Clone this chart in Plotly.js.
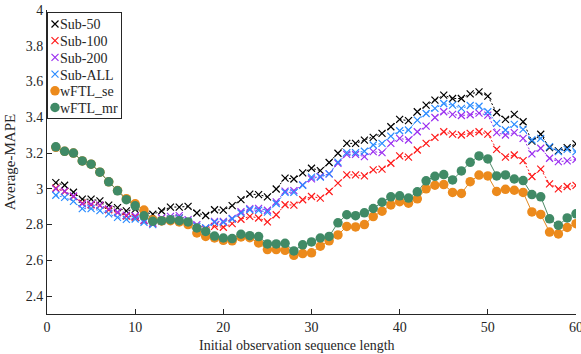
<!DOCTYPE html>
<html>
<head>
<meta charset="utf-8">
<script src="https://cdn.plot.ly/plotly-3.0.1.min.js"></script>
<style>html,body{margin:0;padding:0;background:#fff;}#chart{width:581px;height:354px;}</style>
</head>
<body>
<div id="chart"></div>
<script>
const seqLength = Array.from({length: 60}, (_, i) => i + 1);

const sub50 = [3.035,3.020,2.981,2.942,2.942,2.933,2.909,2.895,2.877,2.885,2.872,2.858,2.876,2.898,2.898,2.902,2.865,2.851,2.883,2.881,
               2.906,2.940,2.970,2.968,2.955,2.999,3.060,3.055,3.089,3.115,3.102,3.147,3.199,3.254,3.254,3.272,3.288,3.310,3.347,3.388,
               3.381,3.431,3.468,3.496,3.524,3.505,3.505,3.531,3.542,3.518,3.427,3.388,3.416,3.375,3.267,3.305,3.230,3.212,3.230,3.251];
const sub100 = [3.004,2.985,2.957,2.920,2.911,2.907,2.883,2.867,2.848,2.841,2.822,2.805,2.823,2.831,2.837,2.809,2.775,2.775,2.790,2.785,
                2.805,2.830,2.846,2.837,2.815,2.855,2.911,2.909,2.939,2.957,2.948,2.985,3.032,3.078,3.078,3.072,3.106,3.110,3.143,3.184,
                3.177,3.217,3.254,3.288,3.319,3.306,3.301,3.310,3.319,3.306,3.221,3.177,3.189,3.158,3.069,3.110,3.028,3.000,3.013,3.019];
const sub200 = [3.000,2.987,2.960,2.916,2.914,2.909,2.888,2.869,2.853,2.848,2.825,2.810,2.837,2.846,2.850,2.827,2.800,2.781,2.818,2.818,
                2.835,2.872,2.889,2.891,2.880,2.927,2.987,2.990,3.022,3.056,3.069,3.084,3.143,3.193,3.193,3.180,3.208,3.202,3.254,3.282,
                3.273,3.319,3.351,3.399,3.431,3.416,3.410,3.414,3.423,3.412,3.314,3.301,3.314,3.282,3.195,3.227,3.171,3.152,3.156,3.165];
const subAll = [2.964,2.952,2.930,2.889,2.889,2.878,2.860,2.840,2.829,2.831,2.813,2.800,2.818,2.831,2.837,2.818,2.790,2.781,2.812,2.812,
                2.831,2.864,2.883,2.880,2.870,2.918,2.980,2.980,3.020,3.065,3.065,3.084,3.149,3.202,3.202,3.210,3.245,3.254,3.295,3.325,
                3.329,3.384,3.421,3.450,3.477,3.468,3.450,3.466,3.462,3.431,3.366,3.329,3.360,3.332,3.273,3.282,3.236,3.208,3.221,3.208];
const wftlSe = [3.232,3.210,3.200,3.156,3.138,3.093,3.039,2.990,2.945,2.916,2.881,2.827,2.820,2.822,2.815,2.800,2.753,2.734,2.725,2.712,
                2.709,2.731,2.727,2.697,2.660,2.660,2.656,2.628,2.638,2.642,2.679,2.709,2.742,2.790,2.787,2.800,2.845,2.875,2.910,2.928,
                2.920,2.944,3.000,3.020,3.024,2.980,2.974,3.040,3.077,3.072,2.985,2.997,2.992,2.980,2.871,2.857,2.758,2.748,2.784,2.805];
const wftlMr = [3.235,3.210,3.200,3.156,3.138,3.093,3.039,2.989,2.939,2.905,2.849,2.818,2.822,2.827,2.822,2.815,2.781,2.762,2.736,2.725,
                2.722,2.746,2.738,2.733,2.692,2.692,2.695,2.653,2.687,2.703,2.725,2.734,2.810,2.855,2.850,2.866,2.890,2.925,2.955,2.961,
                2.948,2.983,3.045,3.070,3.080,3.050,3.100,3.148,3.184,3.167,3.072,3.078,3.055,3.046,2.968,2.955,2.832,2.796,2.837,2.860];

const seriesNames = ['Sub-50','Sub-100','Sub-200','Sub-ALL','wFTL_se','wFTL_mr'];
const seriesData = [sub50, sub100, sub200, subAll, wftlSe, wftlMr];
const colors = ['#000000','#ff1a1a','#9b30f0','#2b8cff','#ec8a1c','#408a66'];
const lineColors = ['#000000','#ff1a1a','#9b30f0','#2b8cff','#e2891f','#4e8a68'];
const isSub = [true,true,true,true,false,false];
const xTitle = 'Initial observation sequence length';
const yTitle = 'Average-MAPE';

const font = "'Liberation Serif', 'Times New Roman', serif";
const txt = '#262626';

const traces = [];
seriesData.forEach((ys, i) => {
  traces.push({
    x: seqLength, y: ys, type: 'scatter', mode: 'lines', showlegend: false,
    line: {color: lineColors[i], width: 1, dash: isSub[i] ? '2px,2px' : 'solid'},
    hoverinfo: 'skip'
  });
});
seriesData.forEach((ys, i) => {
  traces.push({
    x: seqLength, y: ys, type: 'scatter', mode: 'markers', name: seriesNames[i],
    marker: isSub[i]
      ? {symbol: 'x-thin-open', size: 7, color: colors[i], line: {color: colors[i], width: 1.2}}
      : {symbol: 'circle', size: 9.5, color: colors[i], line: {width: 0}}
  });
});

const layout = {
  width: 581, height: 354,
  margin: {l: 47, r: 5, t: 10, b: 40},
  paper_bgcolor: '#fff', plot_bgcolor: '#fff',
  font: {family: font, size: 14, color: txt},
  showlegend: true,
  legend: {x: 0, y: 1, xanchor: 'left', yanchor: 'top', bgcolor: '#fff',
           bordercolor: txt, borderwidth: 1, font: {family: font, size: 14, color: txt},
           itemwidth: 30, tracegroupgap: 0},
  xaxis: {range: [0, 60], dtick: 10, tick0: 0, showgrid: false, zeroline: false,
          showline: true, linecolor: txt, linewidth: 1, ticks: 'inside', ticklen: 5,
          tickcolor: txt, ticklabeloverflow: 'allow', tickfont: {family: font, size: 14, color: txt}},
  yaxis: {range: [2.3, 4], dtick: 0.2, tick0: 0, showgrid: false, zeroline: false,
          showline: true, linecolor: txt, linewidth: 1, ticks: 'inside', ticklen: 5,
          tickcolor: txt, ticklabeloverflow: 'allow', tickfont: {family: font, size: 14, color: txt},
          title: {text: yTitle, font: {family: font, size: 15, color: txt}, standoff: 6}},
  annotations: [{text: xTitle, xref: 'paper', yref: 'paper', x: 0.473, y: 0,
                 xanchor: 'center', yanchor: 'middle', yshift: -31, showarrow: false,
                 font: {family: font, size: 14, color: txt}}]
};

Plotly.newPlot('chart', traces, layout, {displayModeBar: false, staticPlot: true}).then(gd => {
  // compact legend layout (MATLAB-style: symbol directly before text)
  const leg = gd.querySelector('.legend');
  if (!leg) return;
  const rows = leg.querySelectorAll('.traces');
  rows.forEach((row, i) => {
    row.setAttribute('transform', 'translate(1,' + (12 + i * 16.7) + ')');
    const t = row.querySelector('.legendtext');
    if (t) t.setAttribute('x', 12);
    row.querySelectorAll('.legendpoints path').forEach(p => p.setAttribute('transform', 'translate(7,0)'));
  });
  const bg = leg.querySelector('.bg');
  if (bg) { bg.setAttribute('width', 74); bg.setAttribute('height', 106); }
  const tr = leg.getAttribute('transform');
  const m = /translate\(([-\d.]+),\s*([-\d.]+)\)/.exec(tr || '');
  if (m) leg.setAttribute('transform', 'translate(' + m[1] + ',' + (parseFloat(m[2]) + 2) + ')');
});
</script>
</body>
</html>
